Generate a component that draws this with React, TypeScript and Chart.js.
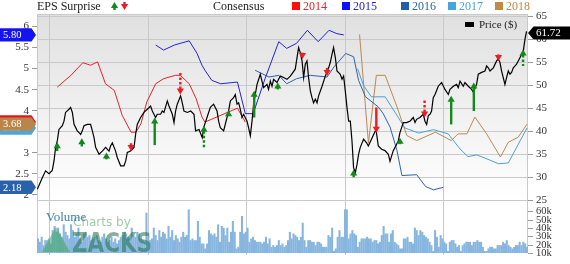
import React, { useEffect, useRef } from 'react';
import { Chart, registerables } from 'chart.js';

Chart.register(...registerables);

const SERIF = '"Liberation Serif", "DejaVu Serif", serif';

const YEAR_TICKS = [2013, 2014, 2015, 2016, 2017];
const EPS_TICKS = [2, 2.5, 3, 4, 4.5, 5, 5.5, 6];
const PRICE_TICKS = [25, 30, 35, 40, 45, 50, 55, 60, 65];
const VOLUME_TICKS = [10, 20, 30, 40, 50, 60];

// [decimal year, price $]
const PRICE: [number, number][] = [
  [2012.878, 27.4], [2012.929, 29.9], [2012.962, 31.4], [2012.997, 30.8], [2013.030, 31.5], [2013.048, 33.6],
  [2013.064, 36.5], [2013.081, 37.9], [2013.098, 40.4], [2013.132, 41.2], [2013.149, 42.2], [2013.165, 44.1],
  [2013.200, 44.8], [2013.216, 45.2], [2013.234, 44.1], [2013.251, 41.5], [2013.284, 40.1], [2013.302, 39.7],
  [2013.318, 39.3], [2013.335, 40.1], [2013.352, 41.2], [2013.386, 41.5], [2013.419, 41.5], [2013.437, 40.1],
  [2013.454, 38.6], [2013.470, 36.5], [2013.505, 35.0], [2013.538, 35.7], [2013.572, 36.5], [2013.606, 35.7],
  [2013.622, 36.8], [2013.640, 37.5], [2013.673, 35.7], [2013.690, 34.3], [2013.724, 32.5], [2013.758, 32.5],
  [2013.775, 33.5], [2013.792, 35.4], [2013.825, 35.7], [2013.860, 36.5], [2013.876, 39.3], [2013.893, 41.5],
  [2013.927, 43.0], [2013.961, 44.1], [2013.995, 44.8], [2014.028, 45.5], [2014.046, 44.4], [2014.079, 43.0],
  [2014.096, 43.7], [2014.130, 43.7], [2014.147, 44.4], [2014.164, 44.1], [2014.198, 46.6], [2014.215, 45.5],
  [2014.249, 43.7], [2014.266, 41.9], [2014.282, 44.4], [2014.299, 45.9], [2014.333, 47.7], [2014.350, 46.2],
  [2014.367, 44.4], [2014.401, 44.1], [2014.435, 44.4], [2014.469, 43.7], [2014.485, 40.1], [2014.520, 40.4],
  [2014.553, 38.6], [2014.567, 40.8], [2014.601, 43.0], [2014.635, 45.2], [2014.668, 45.9], [2014.703, 44.4],
  [2014.719, 42.2], [2014.736, 40.8], [2014.770, 40.1], [2014.804, 43.0], [2014.820, 44.4], [2014.838, 46.6],
  [2014.871, 47.3], [2014.888, 48.0], [2014.906, 45.9], [2014.922, 46.2], [2014.939, 44.8], [2014.956, 43.0],
  [2014.973, 43.7], [2015.007, 42.2], [2015.023, 40.8], [2015.041, 39.0], [2015.058, 42.2], [2015.074, 45.9],
  [2015.091, 48.0], [2015.109, 50.2], [2015.142, 52.4], [2015.159, 50.9], [2015.176, 49.5], [2015.210, 50.2],
  [2015.226, 49.1], [2015.244, 50.9], [2015.261, 49.8], [2015.277, 51.3], [2015.312, 50.6], [2015.328, 51.3],
  [2015.345, 52.0], [2015.379, 51.7], [2015.413, 51.3], [2015.447, 52.0], [2015.497, 53.5], [2015.515, 56.0],
  [2015.531, 58.2], [2015.548, 57.1], [2015.566, 55.3], [2015.582, 51.7], [2015.599, 54.6], [2015.616, 55.3],
  [2015.632, 51.7], [2015.650, 48.8], [2015.667, 47.3], [2015.683, 46.2], [2015.701, 47.0], [2015.718, 46.2],
  [2015.734, 47.7], [2015.769, 49.8], [2015.802, 52.0], [2015.836, 53.8], [2015.853, 55.0], [2015.870, 56.7],
  [2015.886, 58.2], [2015.904, 56.0], [2015.921, 53.1], [2015.954, 52.4], [2015.972, 51.3], [2015.988, 52.0],
  [2016.005, 48.8], [2016.022, 45.2], [2016.039, 42.2], [2016.056, 42.2], [2016.073, 37.9], [2016.089, 32.1],
  [2016.107, 31.0], [2016.124, 32.8], [2016.140, 35.0], [2016.157, 36.5], [2016.191, 38.3], [2016.221, 37.5],
  [2016.239, 36.8], [2016.272, 38.3], [2016.317, 40.4], [2016.340, 36.8], [2016.374, 36.1], [2016.408, 35.8],
  [2016.442, 35.0], [2016.459, 33.5], [2016.492, 35.8], [2016.510, 36.5], [2016.543, 37.9], [2016.560, 39.7],
  [2016.594, 41.9], [2016.627, 41.9], [2016.662, 42.2], [2016.695, 43.0], [2016.713, 41.9], [2016.729, 42.6],
  [2016.763, 43.0], [2016.797, 43.7], [2016.814, 42.2], [2016.831, 41.5], [2016.848, 43.4], [2016.865, 43.7],
  [2016.881, 44.4], [2016.898, 47.3], [2016.916, 48.0], [2016.949, 49.8], [2016.983, 50.6], [2017.017, 49.1],
  [2017.051, 48.0], [2017.068, 49.1], [2017.102, 49.8], [2017.135, 50.2], [2017.152, 49.5], [2017.170, 50.9],
  [2017.203, 49.8], [2017.220, 50.6], [2017.254, 49.8], [2017.287, 49.1], [2017.305, 48.5], [2017.338, 50.2],
  [2017.355, 52.4], [2017.389, 52.8], [2017.423, 53.1], [2017.440, 54.2], [2017.457, 53.8], [2017.474, 53.1],
  [2017.508, 53.8], [2017.541, 55.3], [2017.558, 55.7], [2017.575, 55.0], [2017.592, 53.1], [2017.626, 50.2],
  [2017.643, 51.7], [2017.660, 53.1], [2017.677, 52.4], [2017.693, 52.8], [2017.711, 53.8], [2017.744, 54.6],
  [2017.761, 55.3], [2017.795, 56.7], [2017.812, 57.4], [2017.829, 60.0], [2017.845, 61.72],
];

// consensus EPS estimates [decimal year, EPS $]
const CONS_2014: [number, number][] = [
  [2013.08, 4.56], [2013.22, 4.84], [2013.34, 5.14], [2013.42, 5.08], [2013.49, 5.16], [2013.57, 4.64],
  [2013.66, 4.48], [2013.74, 3.89], [2013.83, 3.49], [2013.88, 3.49], [2013.93, 3.69], [2013.99, 4.21],
  [2014.08, 4.64], [2014.16, 4.76], [2014.28, 4.84], [2014.33, 4.84], [2014.42, 4.64], [2014.49, 4.29],
  [2014.55, 3.85], [2014.58, 3.73], [2014.82, 3.97], [2014.91, 4.06], [2014.99, 3.73],
];
const CONS_2015: [number, number][] = [
  [2014.08, 5.56], [2014.16, 5.44], [2014.27, 5.56], [2014.42, 5.66], [2014.50, 5.36], [2014.55, 5.08],
  [2014.58, 4.96], [2014.65, 4.72], [2014.74, 4.64], [2014.91, 4.68], [2014.99, 3.93], [2015.07, 3.93],
  [2015.19, 4.76], [2015.33, 5.64], [2015.41, 5.48], [2015.51, 5.60], [2015.62, 5.91], [2015.73, 5.64],
  [2015.84, 5.91], [2015.92, 5.83], [2015.99, 5.80],
];
const CONS_2016: [number, number][] = [
  [2015.09, 4.96], [2015.23, 4.80], [2015.33, 4.84], [2015.41, 4.64], [2015.51, 4.76], [2015.65, 4.84],
  [2015.82, 4.80], [2015.89, 5.04], [2016.01, 5.36], [2016.09, 5.28], [2016.14, 4.72], [2016.21, 4.33],
  [2016.34, 4.09], [2016.39, 3.93], [2016.46, 3.61], [2016.53, 3.05], [2016.58, 2.46], [2016.73, 2.48],
  [2016.82, 2.20], [2016.90, 2.12], [2017.00, 2.18],
];
const CONS_2017: [number, number][] = [
  [2016.13, 5.00], [2016.19, 4.60], [2016.27, 4.33], [2016.41, 4.33], [2016.61, 3.59], [2016.75, 3.47],
  [2016.90, 3.55], [2017.05, 3.45], [2017.17, 3.09], [2017.25, 2.91], [2017.34, 2.95], [2017.47, 2.83],
  [2017.56, 2.74], [2017.66, 2.76], [2017.85, 3.59],
];
const CONS_2018: [number, number][] = [
  [2016.15, 5.81], [2016.24, 3.23], [2016.32, 4.84], [2016.41, 4.84], [2016.53, 4.09], [2016.63, 3.41],
  [2016.73, 3.29], [2016.92, 3.49], [2017.08, 3.29], [2017.15, 3.45], [2017.24, 3.45], [2017.32, 3.85],
  [2017.44, 3.45], [2017.58, 2.90], [2017.66, 3.25], [2017.76, 3.37], [2017.85, 3.68],
];

// weekly volume, thousands of shares
const VOLUME_K: number[] = [
  27, 23, 29, 19, 25, 25, 27, 21, 37, 42, 35, 40, 33, 29, 44, 35, 31, 27, 44, 37, 29, 33, 40, 27, 23, 33, 35, 29,
  31, 25, 27, 29, 31, 25, 23, 29, 33, 27, 23, 25, 29, 23, 27, 21, 25, 29, 31, 35, 33, 29, 27, 40, 31, 29, 35, 33,
  27, 25, 23, 58, 29, 25, 27, 40, 31, 25, 37, 29, 35, 33, 27, 42, 29, 37, 25, 31, 27, 23, 29, 35,
  29, 31, 62, 25, 27, 25, 25, 48, 29, 21, 21, 15, 21, 37, 33, 31, 33, 29, 44, 23, 42, 40, 31, 40, 23, 35, 48, 35,
  15, 17, 35, 54, 33, 35, 40, 23, 27, 29, 25, 23, 23, 23, 21, 23, 29, 21, 27, 17, 19, 17, 19, 25, 19, 21, 17, 19,
  25, 35, 27, 33, 31, 29, 25, 29, 46, 25, 17, 25, 25, 23, 23, 19, 23, 23, 21, 17, 17, 17, 31, 29, 40, 12, 15, 29,
  37, 29, 29, 62, 62, 27, 33, 37, 33, 31, 17, 23, 27, 27, 27, 29, 27, 27, 23, 25, 25, 21, 23,
  31, 42, 33, 33, 23, 33, 37, 23, 21, 19, 15, 15, 27, 27, 29, 23, 23, 21, 40, 37, 31, 37, 35, 31, 29, 27, 23, 19,
  12, 37, 29, 17, 31, 27, 23, 21, 12, 23, 25, 25, 21, 17, 19, 12, 19, 21, 23, 23, 23, 19, 23, 23, 25, 23, 23, 17,
  12, 12, 15, 17, 17, 15, 15, 19, 19, 19, 23, 21, 25, 19, 17, 15, 17, 19, 19, 23, 19, 23, 21, 17,
];
const VOLUME_FIRST_WEEK = 2012.885;
const VOLUME_LAST_WEEK = 2017.85;

// earnings surprises: [decimal year, arrow tip price, arrow tail price, direction, dashed]
const SURPRISES: [number, number, number, 'up' | 'down', boolean][] = [
  [2013.08, 37.6, 35.7, 'up', false],
  [2013.33, 38.5, 36.7, 'up', false],
  [2013.58, 35.4, 33.9, 'up', false],
  [2013.83, 35.7, 37.4, 'down', false],
  [2014.07, 43.0, 37.0, 'up', false],
  [2014.33, 48.0, 53.1, 'down', true],
  [2014.57, 41.2, 36.5, 'up', true],
  [2014.82, 44.6, 43.3, 'up', false],
  [2015.08, 48.8, 43.0, 'up', false],
  [2015.32, 50.6, 49.1, 'up', false],
  [2015.57, 55.7, 57.1, 'down', false],
  [2015.82, 52.0, 53.8, 'down', false],
  [2016.09, 31.7, 30.0, 'up', true],
  [2016.32, 39.7, 45.2, 'down', false],
  [2016.56, 38.6, 37.2, 'up', false],
  [2016.81, 43.0, 47.0, 'down', true],
  [2017.08, 47.7, 41.5, 'up', false],
  [2017.31, 50.6, 44.4, 'up', false],
  [2017.56, 55.3, 56.7, 'down', false],
  [2017.81, 57.8, 54.2, 'up', true],
];

const C2014 = '#e2242b';
const C2015 = '#2323d4';
const C2016 = '#2f62a8';
const C2017 = '#4ba2d6';
const C2018 = '#b98a50';
const UP = '#13881b';
const DOWN = '#ee1c25';

function drawArrow(ctx: CanvasRenderingContext2D, x: number, yTip: number, yTail: number, up: boolean, dashed: boolean) {
  const color = up ? UP : DOWN;
  const dir = up ? 1 : -1;
  const head = 5.5;
  const hw = 3.6;
  const base = yTip + dir * head;
  ctx.save();
  ctx.strokeStyle = color;
  ctx.fillStyle = color;
  ctx.lineWidth = 2.4;
  if (dashed) ctx.setLineDash([2.5, 2]);
  if (Math.abs(yTail - yTip) > head) {
    ctx.beginPath();
    ctx.moveTo(x, base);
    ctx.lineTo(x, yTail);
    ctx.stroke();
  }
  ctx.setLineDash([]);
  ctx.beginPath();
  ctx.moveTo(x, yTip);
  ctx.lineTo(x - hw, base + dir * 0.5);
  ctx.lineTo(x + hw, base + dir * 0.5);
  ctx.closePath();
  ctx.fill();
  ctx.restore();
}

function leftTag(ctx: CanvasRenderingContext2D, y: number, color: string, text: string) {
  ctx.save();
  ctx.fillStyle = color;
  ctx.beginPath();
  ctx.moveTo(0, y - 6.7);
  ctx.lineTo(31.5, y - 6.7);
  ctx.lineTo(36, y);
  ctx.lineTo(31.5, y + 6.7);
  ctx.lineTo(0, y + 6.7);
  ctx.closePath();
  ctx.fill();
  ctx.fillStyle = '#fff';
  ctx.font = `10.5px ${SERIF}`;
  ctx.textAlign = 'left';
  ctx.textBaseline = 'middle';
  ctx.fillText(text, 3, y + 0.5);
  ctx.restore();
}

const overlay = {
  id: 'overlay',
  beforeDatasetsDraw(chart: any) {
    const { ctx, chartArea: a, scales } = chart;
    const yP = scales.yPrice;
    const y25 = yP.getPixelForValue(25);
    ctx.save();
    const g = ctx.createLinearGradient(0, a.top, 0, y25);
    g.addColorStop(0, '#e0e0e0');
    g.addColorStop(1, '#ffffff');
    ctx.fillStyle = g;
    ctx.fillRect(a.left, a.top, a.right - a.left, y25 - a.top);
    ctx.strokeStyle = '#c9c9c9';
    ctx.lineWidth = 1;
    ctx.beginPath();
    PRICE_TICKS.forEach((p) => {
      const y = Math.round(yP.getPixelForValue(p)) + 0.5;
      ctx.moveTo(a.left, y);
      ctx.lineTo(a.right, y);
    });
    YEAR_TICKS.forEach((t) => {
      const x = Math.round(scales.x.getPixelForValue(t)) + 0.5;
      ctx.moveTo(x, a.top);
      ctx.lineTo(x, a.bottom + 2);
    });
    ctx.moveTo(a.left + 0.5, a.top);
    ctx.lineTo(a.left + 0.5, a.bottom);
    ctx.moveTo(a.right - 0.5, a.top);
    ctx.lineTo(a.right - 0.5, a.bottom);
    ctx.moveTo(a.left, a.top + 0.5);
    ctx.lineTo(a.right, a.top + 0.5);
    ctx.stroke();
    ctx.restore();
  },
  afterDatasetsDraw(chart: any) {
    const { ctx, scales } = chart;
    const x = scales.x;
    const yP = scales.yPrice;
    SURPRISES.forEach(([t, tip, tail, d, dashed]) => {
      drawArrow(ctx, x.getPixelForValue(t), yP.getPixelForValue(tip), yP.getPixelForValue(tail), d === 'up', dashed);
    });
    // watermark
    ctx.save();
    ctx.fillStyle = '#3e7fb6';
    ctx.font = `13px ${SERIF}`;
    ctx.textBaseline = 'alphabetic';
    ctx.fillText('Volume', 46, 221);
    ctx.globalAlpha = 0.55;
    ctx.fillStyle = '#3ea65a';
    ctx.beginPath();
    ctx.moveTo(42, 252);
    ctx.lineTo(56, 227);
    ctx.lineTo(70, 252);
    ctx.closePath();
    ctx.fill();
    ctx.fillStyle = '#4c9c64';
    ctx.font = `12px "DejaVu Sans", sans-serif`;
    ctx.fillText('Charts by', 73, 226);
    ctx.fillStyle = '#1f7048';
    ctx.font = `bold 27px "DejaVu Sans", sans-serif`;
    const w = ctx.measureText('ZACKS').width;
    ctx.translate(72, 252);
    ctx.scale(80 / w, 1);
    ctx.fillText('ZACKS', 0, 0);
    ctx.restore();
  },
  afterDraw(chart: any) {
    const { ctx, scales, chartArea: a } = chart;
    const yE = scales.yEps;
    const yP = scales.yPrice;
    const yV = scales.yVol;
    ctx.save();
    // volume axis ticks and labels
    ctx.strokeStyle = '#999';
    ctx.lineWidth = 1;
    ctx.fillStyle = '#333';
    ctx.font = `10.5px ${SERIF}`;
    ctx.textAlign = 'left';
    ctx.textBaseline = 'middle';
    VOLUME_TICKS.forEach((v) => {
      const y = Math.round(yV.getPixelForValue(v)) + 0.5;
      ctx.beginPath();
      ctx.moveTo(a.right, y);
      ctx.lineTo(a.right + 5, y);
      ctx.stroke();
      ctx.fillText(`${v}k`, a.right + 8, y);
    });
    // top legend
    ctx.textBaseline = 'alphabetic';
    ctx.textAlign = 'left';
    ctx.font = `12px ${SERIF}`;
    ctx.fillStyle = '#222';
    ctx.fillText('EPS Surprise', 37, 10);
    ctx.fillText('Consensus', 213, 10);
    drawArrow(ctx, 114.5, 2, 10, true, false);
    drawArrow(ctx, 124.5, 10, 2, false, false);
    const items: [string, string, string, number][] = [
      ['2014', '#ff1010', C2014, 292],
      ['2015', '#1010ff', C2015, 342],
      ['2016', '#1f5fa8', C2016, 401],
      ['2017', '#44a4dc', C2017, 448],
      ['2018', '#c08a44', C2018, 495],
    ];
    items.forEach(([label, sw, tc, x0]) => {
      ctx.fillStyle = sw;
      ctx.fillRect(x0, 2, 8, 8);
      ctx.fillStyle = tc;
      ctx.fillText(label, x0 + 11, 10);
    });
    // price legend
    ctx.fillStyle = '#000';
    ctx.fillRect(465, 22, 9, 5);
    ctx.fillStyle = '#222';
    ctx.font = `11px ${SERIF}`;
    ctx.fillText('Price ($)', 479, 28);
    ctx.restore();

    // value tags on the EPS axis
    const last = (s: [number, number][]) => s[s.length - 1][1];
    leftTag(ctx, yE.getPixelForValue(last(CONS_2015)), '#1414f0', last(CONS_2015).toFixed(2));
    leftTag(ctx, yE.getPixelForValue(last(CONS_2016)), '#2a62aa', last(CONS_2016).toFixed(2));
    leftTag(ctx, yE.getPixelForValue(last(CONS_2014)), '#e8141c', last(CONS_2014).toFixed(2));
    leftTag(ctx, yE.getPixelForValue(last(CONS_2017)), '#4aa6dc', last(CONS_2017).toFixed(2));
    leftTag(ctx, yE.getPixelForValue(last(CONS_2018)), '#b8864a', last(CONS_2018).toFixed(2));

    // last price tag
    const lp = PRICE[PRICE.length - 1][1];
    const y = yP.getPixelForValue(lp) + 1.5;
    ctx.save();
    ctx.fillStyle = '#000';
    ctx.beginPath();
    ctx.moveTo(528, y);
    ctx.lineTo(533.5, y - 6.5);
    ctx.lineTo(570, y - 6.5);
    ctx.lineTo(570, y + 6.5);
    ctx.lineTo(533.5, y + 6.5);
    ctx.closePath();
    ctx.fill();
    ctx.fillStyle = '#fff';
    ctx.font = `11px ${SERIF}`;
    ctx.textBaseline = 'middle';
    ctx.fillText(lp.toFixed(2), 536, y + 0.5);
    ctx.restore();
  },
};

const xy = (s: [number, number][]) => s.map(([x, y]) => ({ x, y }));

export default function App() {
  const ref = useRef<HTMLCanvasElement | null>(null);
  useEffect(() => {
    if (!ref.current) return;
    const step = (VOLUME_LAST_WEEK - VOLUME_FIRST_WEEK) / (VOLUME_K.length - 1);
    const volume = VOLUME_K.map((v, i) => ({ x: VOLUME_FIRST_WEEK + i * step, y: v }));
    const line = (data: [number, number][], color: string, width = 1) => ({
      type: 'line' as const,
      data: xy(data),
      yAxisID: 'yEps',
      borderColor: color,
      borderWidth: width,
      pointRadius: 0,
      tension: 0,
      order: 2,
    });
    const tickFont = { family: SERIF, size: 11 };
    const chart = new Chart(ref.current, {
      type: 'bar',
      data: {
        datasets: [
          {
            type: 'line',
            data: xy(PRICE),
            yAxisID: 'yPrice',
            borderColor: '#000',
            borderWidth: 1.2,
            pointRadius: 0,
            tension: 0,
            order: 1,
          } as any,
          line(CONS_2014, C2014),
          line(CONS_2015, C2015),
          line(CONS_2016, C2016),
          line(CONS_2017, C2017),
          line(CONS_2018, C2018),
          {
            type: 'bar',
            data: volume,
            yAxisID: 'yVol',
            backgroundColor: '#86b5e0',
            borderWidth: 0,
            barThickness: 1.4,
            order: 5,
          } as any,
        ],
      },
      options: {
        animation: false,
        responsive: false,
        events: [],
        layout: { padding: { top: 14, left: 0, right: 0, bottom: 0 } },
        plugins: { legend: { display: false }, tooltip: { enabled: false } },
        scales: {
          x: {
            type: 'linear',
            offset: false,
            min: 2012.875,
            max: 2017.86,
            afterFit: (s: any) => { s.height = 11; },
            afterBuildTicks: (s: any) => { s.ticks = YEAR_TICKS.map((value) => ({ value })); },
            ticks: { font: tickFont, color: '#333', padding: 1, maxRotation: 0, autoSkip: false, callback: (v: any) => String(v) },
            grid: { display: false, offset: false },
            border: { display: false },
          },
          yEps: {
            type: 'linear',
            position: 'left',
            min: 0.62,
            max: 6.297,
            afterFit: (s: any) => { s.width = 37; },
            afterBuildTicks: (s: any) => { s.ticks = EPS_TICKS.map((value) => ({ value })); },
            ticks: { font: tickFont, color: '#333', padding: 3, callback: (v: any) => String(v) },
            grid: { drawOnChartArea: false, tickLength: 5, color: '#999' },
            border: { display: false },
          },
          yVol: {
            type: 'linear',
            display: false,
            position: 'right',
            min: 10,
            max: 296.9,
          },
          yPrice: {
            type: 'linear',
            position: 'right',
            min: 13.54,
            max: 65.5,
            afterFit: (s: any) => { s.width = 42; },
            afterBuildTicks: (s: any) => { s.ticks = PRICE_TICKS.map((value) => ({ value })); },
            ticks: { font: tickFont, color: '#333', padding: 3, callback: (v: any) => String(v) },
            grid: { drawOnChartArea: false, tickLength: 5, color: '#999' },
            border: { display: false },
          },
        },
      } as any,
      plugins: [overlay as any],
    });
    return () => chart.destroy();
  }, []);
  return (
    <div style={{ position: 'fixed', left: 0, top: 0, width: 570, height: 264, background: '#fff' }}>
      <canvas ref={ref} width={570} height={264} style={{ display: 'block' }} />
    </div>
  );
}
